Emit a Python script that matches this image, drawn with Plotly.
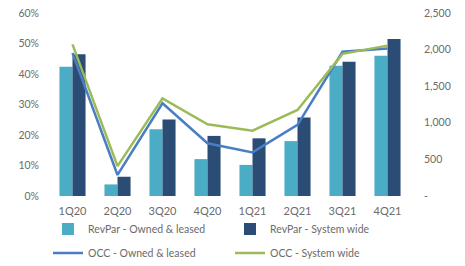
import plotly.graph_objects as go

quarters = ["1Q20", "2Q20", "3Q20", "4Q20", "1Q21", "2Q21", "3Q21", "4Q21"]
# RevPar values (right axis)
revpar_owned = [1767, 158, 913, 504, 425, 750, 1779, 1917]
revpar_system = [1938, 263, 1046, 821, 788, 1071, 1833, 2146]
# Occupancy (left axis, fraction)
occ_owned = [0.469, 0.069, 0.304, 0.173, 0.143, 0.233, 0.473, 0.484]
occ_system = [0.497, 0.098, 0.320, 0.235, 0.214, 0.282, 0.466, 0.493]

left_ticks = [0, 0.1, 0.2, 0.3, 0.4, 0.5, 0.6]
left_labels = ["0%", "10%", "20%", "30%", "40%", "50%", "60%"]
right_ticks = [0, 500, 1000, 1500, 2000, 2500]
right_labels = ["-", "500", "1,000", "1,500", "2,000", "2,500"]

FONT = "Lato, Carlito, Calibri, sans-serif"
GRAY = "#6b6b6b"

fig = go.Figure()
fig.add_trace(go.Bar(x=quarters, y=revpar_owned, name="RevPar - Owned & leased",
                     marker=dict(color="#4BACC6", line=dict(width=0)),
                     yaxis="y", legend="legend"))
fig.add_trace(go.Bar(x=quarters, y=revpar_system, name="RevPar - System wide",
                     marker=dict(color="#2B4C74", line=dict(width=0)),
                     yaxis="y", legend="legend"))
fig.add_trace(go.Scatter(x=quarters, y=occ_owned, name="OCC - Owned & leased",
                         mode="lines", line=dict(color="#4A7EC4", width=2.5),
                         yaxis="y2", legend="legend2"))
fig.add_trace(go.Scatter(x=quarters, y=occ_system, name="OCC - System wide",
                         mode="lines", line=dict(color="#9BBB59", width=2.5),
                         yaxis="y2", legend="legend2"))

fig.update_layout(
    width=457, height=258,
    margin=dict(l=42, r=55, t=5, b=70, autoexpand=False),
    paper_bgcolor="white", plot_bgcolor="white",
    font=dict(family=FONT, size=11, color=GRAY),
    barmode="group", bargap=0.42, bargroupgap=0,
    xaxis=dict(showgrid=False, showline=False, zeroline=False, ticks="",
               tickfont=dict(size=11, color=GRAY), ticklabelstandoff=7),
    yaxis=dict(side="right", range=[0, 2500], tickvals=right_ticks, ticktext=right_labels,
               showgrid=False, zeroline=False, showline=False, ticks="",
               tickfont=dict(size=10.5, color=GRAY), ticklabelstandoff=13,
               ticklabeloverflow="allow"),
    yaxis2=dict(side="left", overlaying="y", range=[0, 0.6], tickvals=left_ticks,
                ticktext=left_labels, showgrid=False, zeroline=False, showline=False,
                ticks="", tickfont=dict(size=10.5, color=GRAY), ticklabelstandoff=10,
                ticklabeloverflow="allow"),
    legend=dict(orientation="h", xref="container", yref="container", x=0.0875, y=0.143,
                xanchor="left", yanchor="middle", entrywidth=137, entrywidthmode="pixels",
                font=dict(size=10.5, color=GRAY), bgcolor="rgba(0,0,0,0)"),
    legend2=dict(orientation="h", xref="container", yref="container", x=0.0875, y=0.05,
                 xanchor="left", yanchor="middle", entrywidth=137, entrywidthmode="pixels",
                 font=dict(size=10.5, color=GRAY), bgcolor="rgba(0,0,0,0)"),
)

fig.write_html("out.html")
